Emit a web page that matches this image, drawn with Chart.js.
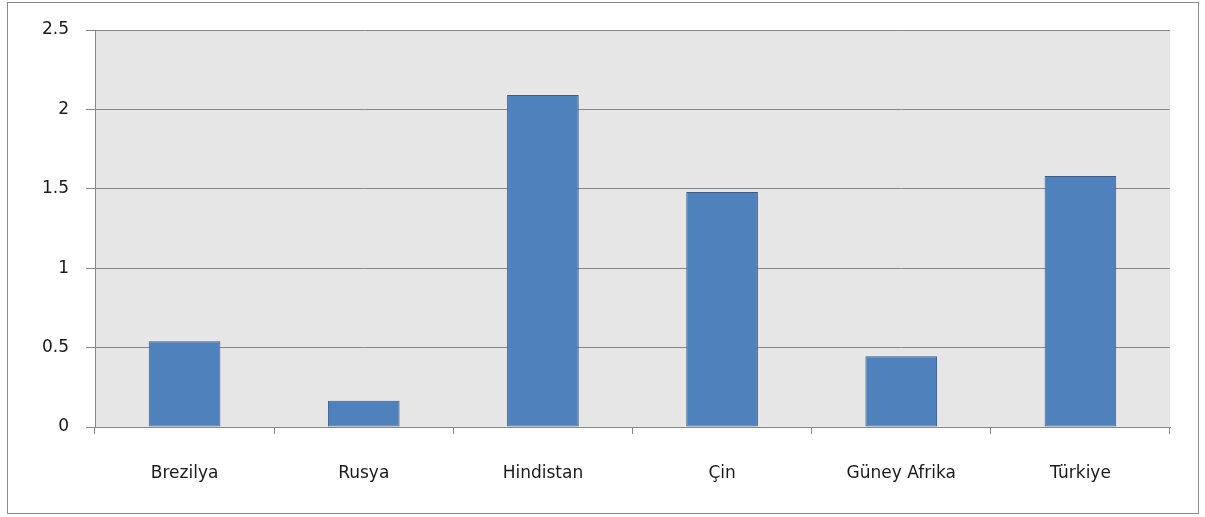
<!DOCTYPE html>
<html>
<head>
<meta charset="utf-8">
<script src="https://cdn.jsdelivr.net/npm/chart.js@4/dist/chart.umd.min.js"></script>
<style>
    html, body { margin: 0; padding: 0; background: #fff; }
    #wrap { position: relative; width: 1205px; height: 517px; }
    #frame {
        position: absolute; left: 7px; top: 2px; width: 1192px; height: 512px;
        border: 1px solid #8c8c8c; box-sizing: border-box; pointer-events: none;
    }
</style>
</head>
<body>
<div id="wrap">
    <canvas id="chart" width="1205" height="517"></canvas>
    <div id="frame"></div>
</div>
<script>
// Data
const categories = ['Brezilya', 'Rusya', 'Hindistan', 'Çin', 'Güney Afrika', 'Türkiye'];
const values = [0.54, 0.165, 2.09, 1.48, 0.445, 1.58];
const yTicks = [0, 0.5, 1, 1.5, 2, 2.5];

const gridColor = '#888888';
const font = { family: '"DejaVu Sans", sans-serif', size: 17 };

// Fill the plot area with light grey, like the spreadsheet chart
const plotBackground = {
    id: 'plotBackground',
    beforeDraw(chart) {
        const { ctx, chartArea } = chart;
        ctx.save();
        ctx.fillStyle = '#e6e6e6';
        ctx.fillRect(chartArea.left, chartArea.top,
            chartArea.right - chartArea.left, chartArea.bottom - chartArea.top);
        ctx.restore();
    }
};

new Chart(document.getElementById('chart'), {
    type: 'bar',
    data: {
        labels: categories,
        datasets: [{
            data: values,
            backgroundColor: '#4f81bd',
            borderColor: '#385d8a',
            borderWidth: 1,
            borderSkipped: false,
            barPercentage: 0.4,
            categoryPercentage: 1
        }]
    },
    options: {
        responsive: false,
        animation: false,
        layout: { padding: { top: 30, right: 35, left: 0, bottom: 0 } },
        plugins: {
            legend: { display: false },
            tooltip: { enabled: false }
        },
        scales: {
            x: {
                afterFit: (scale) => { scale.height = 90; },
                grid: {
                    offset: true,
                    drawOnChartArea: false,
                    drawTicks: true,
                    tickLength: 7,
                    color: gridColor
                },
                border: { color: gridColor, width: 1 },
                ticks: { color: '#1a1a1a', font: font, padding: 29 }
            },
            y: {
                min: 0,
                max: 2.5,
                afterFit: (scale) => { scale.width = 95; },
                afterBuildTicks: (scale) => {
                    scale.ticks = yTicks.map(v => ({ value: v }));
                },
                grid: {
                    color: gridColor,
                    drawTicks: true,
                    tickLength: 9
                },
                border: { color: gridColor, width: 1 },
                ticks: {
                    color: '#1a1a1a',
                    font: font,
                    padding: 17,
                    callback: (value) => String(value)
                }
            }
        }
    },
    plugins: [plotBackground]
});
</script>
</body>
</html>
